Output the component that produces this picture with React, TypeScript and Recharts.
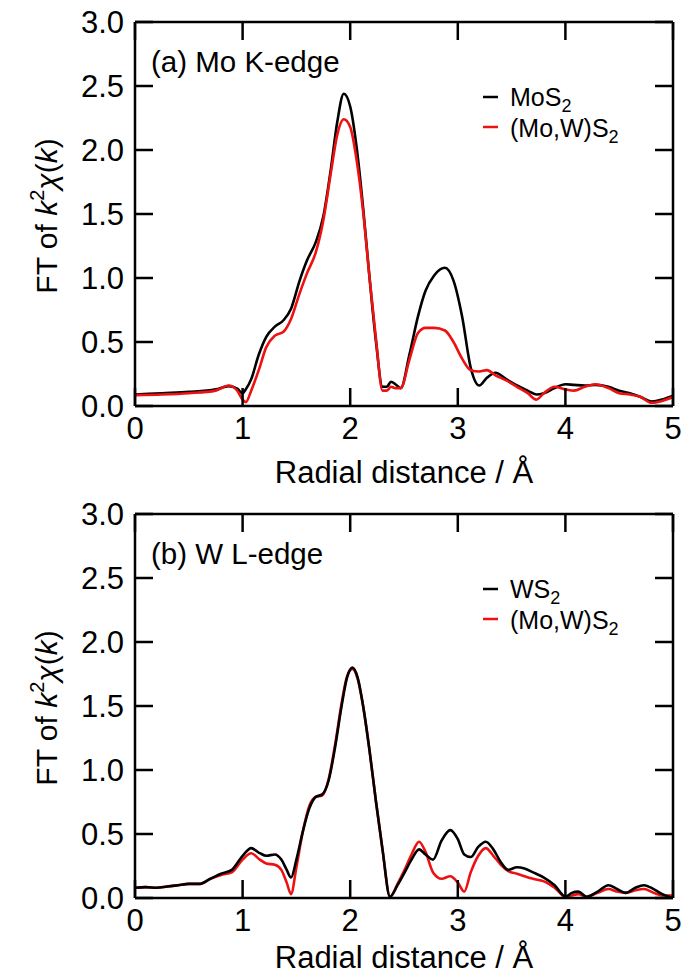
import { Line, LineChart, XAxis, YAxis } from "recharts";

const FONT = '"Liberation Sans", Arial, Helvetica, sans-serif';
const RED = "#ee1111";

const X_TICKS = [0, 1, 2, 3, 4, 5];
const Y_TICKS = [0, 0.5, 1, 1.5, 2, 2.5, 3];

// (a) Mo K-edge
const R_MO = [
  0, 0.25, 0.5, 0.75, 0.87, 0.95, 1.0, 1.03, 1.08, 1.15, 1.22, 1.3, 1.38, 1.45, 1.53, 1.6, 1.68,
  1.75, 1.82, 1.88, 1.94, 2.0, 2.06, 2.12, 2.18, 2.24, 2.3, 2.34, 2.38, 2.42, 2.47, 2.55, 2.63,
  2.7, 2.78, 2.88, 2.96, 3.04, 3.12, 3.2, 3.27, 3.35, 3.45, 3.55, 3.65, 3.73, 3.8, 3.9, 4.0, 4.08,
  4.18, 4.28, 4.4, 4.5, 4.6, 4.7, 4.8, 4.9, 5.0,
];
const MOS2_MO = [
  0.09, 0.1, 0.11, 0.13, 0.155, 0.135, 0.1, 0.13, 0.21, 0.4, 0.54, 0.62, 0.67, 0.76, 0.98, 1.14,
  1.28, 1.48, 1.85, 2.22, 2.44, 2.34, 2.02, 1.55, 1.0, 0.5, 0.15, 0.15, 0.19, 0.17, 0.14, 0.4,
  0.7, 0.9, 1.02, 1.08, 0.98, 0.7, 0.3, 0.16, 0.22, 0.26, 0.21, 0.16, 0.12, 0.09, 0.1, 0.14,
  0.17, 0.165, 0.16, 0.165, 0.15, 0.12, 0.1, 0.07, 0.035, 0.05, 0.08,
];
const MOWS2_MO = [
  0.085, 0.09, 0.1, 0.12, 0.16, 0.12, 0.05, 0.03, 0.12, 0.28, 0.46, 0.55, 0.58, 0.68, 0.88, 1.04,
  1.2, 1.45, 1.82, 2.12, 2.24, 2.18, 1.92, 1.52, 1.0, 0.52, 0.12, 0.12, 0.15, 0.14, 0.14, 0.36,
  0.57, 0.61, 0.61, 0.59, 0.5, 0.37, 0.28, 0.27, 0.28, 0.24, 0.2, 0.15, 0.1, 0.05, 0.1, 0.15,
  0.13, 0.12, 0.15, 0.17, 0.14, 0.1, 0.09, 0.07, 0.025, 0.04, 0.07,
];

// (b) W L-edge
const R_W = [
  0, 0.1, 0.2, 0.3, 0.4, 0.5, 0.6, 0.7, 0.8, 0.9, 1.0, 1.08, 1.16, 1.22, 1.3, 1.36, 1.41, 1.45,
  1.5, 1.56, 1.62, 1.68, 1.74, 1.8, 1.86, 1.92, 1.97, 2.02, 2.07, 2.12, 2.18, 2.24, 2.3, 2.37,
  2.44, 2.5, 2.57, 2.64, 2.7, 2.77, 2.85, 2.93, 3.0, 3.06, 3.12, 3.19, 3.26, 3.33, 3.4, 3.47,
  3.55, 3.62, 3.7, 3.8, 3.9, 4.0, 4.06, 4.12, 4.2, 4.3, 4.4, 4.48, 4.56, 4.65, 4.73, 4.82, 4.9, 5.0,
];
const WS2_W = [
  0.08, 0.085, 0.08, 0.09, 0.1, 0.11, 0.11, 0.15, 0.19, 0.22, 0.33, 0.39, 0.35, 0.33, 0.34, 0.3,
  0.22, 0.16, 0.3, 0.52, 0.7, 0.79, 0.81, 0.92, 1.18, 1.5, 1.72, 1.8, 1.72, 1.5, 1.15, 0.75, 0.38,
  0.01, 0.1, 0.19, 0.3, 0.38, 0.34, 0.3, 0.45, 0.53, 0.46, 0.34, 0.32, 0.4, 0.44, 0.38, 0.28,
  0.22, 0.24, 0.23, 0.2, 0.16, 0.1, 0.01, 0.04, 0.05, 0.01, 0.05, 0.1, 0.07, 0.04, 0.08, 0.1,
  0.07, 0.03, 0.0,
];
const MOWS2_W = [
  0.08, 0.085, 0.08, 0.09, 0.1, 0.11, 0.11, 0.15, 0.18, 0.2, 0.3, 0.35, 0.3, 0.27, 0.26, 0.22,
  0.12, 0.03, 0.24, 0.52, 0.72, 0.79, 0.8, 0.93, 1.2, 1.52, 1.73, 1.79, 1.71, 1.5, 1.15, 0.75,
  0.38, 0.01, 0.11, 0.21, 0.34, 0.44, 0.36, 0.2, 0.15, 0.17, 0.12, 0.05, 0.2, 0.33, 0.39, 0.33,
  0.26, 0.21, 0.19, 0.17, 0.15, 0.13, 0.08, 0.01, 0.02, 0.03, 0.01, 0.04, 0.07, 0.05, 0.04, 0.06,
  0.07, 0.04, 0.02, 0.02,
];

type Row = { r: number; ref: number; mix: number };
type Series = { name: string; sub: string; color: string };

const build = (r: number[], a: number[], b: number[]): Row[] =>
  r.map((x, i) => ({ r: x, ref: a[i], mix: b[i] }));

const AXIS = { stroke: "#000", strokeWidth: 2.5 };
const TICK_TEXT = { fontSize: 31, fill: "#000", fontFamily: FONT };
const noTick = () => <g />;

const makeXTitle = (offset: number) => ({ viewBox }: any) => (
  <text
    x={viewBox.x + viewBox.width / 2}
    y={viewBox.y + offset}
    textAnchor="middle"
    fontSize={31}
    fontFamily={FONT}
    fill="#000"
  >
    Radial distance / Å
  </text>
);

const yTitle = ({ viewBox }: any) => {
  const cx = viewBox.x + 57;
  const cy = viewBox.y + viewBox.height / 2 + 2;
  return (
    <text
      x={cx}
      y={cy}
      transform={`rotate(-90 ${cx} ${cy})`}
      textAnchor="middle"
      fontSize={30}
      fontFamily={FONT}
      fill="#000"
    >
      FT of <tspan fontStyle="italic">k</tspan>
      <tspan dy={-13} fontSize={20}>2</tspan>
      <tspan dy={13} fontStyle="italic">χ</tspan>(<tspan fontStyle="italic">k</tspan>)
    </text>
  );
};

function Panel({
  top,
  height,
  rows,
  title,
  series,
  redOnTop,
  titleOffset,
}: {
  top: number;
  height: number;
  rows: Row[];
  title: string;
  series: Series[];
  redOnTop: boolean;
  titleOffset: number;
}) {
  const lines = [
    <Line key="ref" xAxisId="b" yAxisId="l" type="monotone" dataKey="ref" stroke="#000"
      strokeWidth={2.6} dot={false} isAnimationActive={false} />,
    <Line key="mix" xAxisId="b" yAxisId="l" type="monotone" dataKey="mix" stroke={RED}
      strokeWidth={2.6} dot={false} isAnimationActive={false} />,
  ];
  return (
    <div style={{ position: "absolute", left: 0, top, width: 692, height }}>
      <LineChart width={692} height={height} data={rows}
        margin={{ top: 21, right: 18, left: 0, bottom: 0 }}>
        <XAxis xAxisId="b" dataKey="r" type="number" domain={[0, 5]} ticks={X_TICKS}
          interval={0} height={height - 22 - 384} tickSize={-18} tickMargin={29}
          tick={TICK_TEXT} axisLine={AXIS} tickLine={AXIS} label={makeXTitle(titleOffset)}
          allowDataOverflow />
        <XAxis xAxisId="t" orientation="top" dataKey="r" type="number" domain={[0, 5]}
          ticks={X_TICKS} interval={0} height={1} tickSize={-18} tick={noTick}
          axisLine={AXIS} tickLine={AXIS} allowDataOverflow />
        <YAxis yAxisId="l" type="number" domain={[0, 3]} ticks={Y_TICKS} interval={0}
          width={135} tickSize={-18} tickMargin={29} tick={TICK_TEXT}
          tickFormatter={(v: number) => v.toFixed(1)} axisLine={AXIS} tickLine={AXIS}
          label={yTitle} allowDataOverflow />
        <YAxis yAxisId="r" orientation="right" type="number" domain={[0, 3]} ticks={Y_TICKS}
          interval={0} width={1} tickSize={-18} tick={noTick} axisLine={AXIS}
          tickLine={AXIS} allowDataOverflow />
        {redOnTop ? lines : [lines[1], lines[0]]}
      </LineChart>
      <svg width={692} height={height}
        style={{ position: "absolute", left: 0, top: 0, pointerEvents: "none" }}>
        <text x={151} y={72} fontSize={29.5} fontFamily={FONT} fill="#000">{title}</text>
        {series.map((s, i) => (
          <g key={s.name}>
            <line x1={483} x2={498} y1={97 + i * 30} y2={97 + i * 30} stroke={s.color}
              strokeWidth={2.5} />
            <text x={510} y={105.5 + i * 31.5} fontSize={25} fontFamily={FONT} fill="#000">
              {s.name}
              <tspan dy={6} fontSize={18}>{s.sub}</tspan>
            </text>
          </g>
        ))}
      </svg>
    </div>
  );
}

const SERIES_MO: Series[] = [
  { name: "MoS", sub: "2", color: "#000" },
  { name: "(Mo,W)S", sub: "2", color: RED },
];
const SERIES_W: Series[] = [
  { name: "WS", sub: "2", color: "#000" },
  { name: "(Mo,W)S", sub: "2", color: RED },
];

export default function App() {
  return (
    <div style={{ position: "absolute", left: 0, top: 0, width: 692, height: 976, background: "#fff" }}>
      <Panel top={492} height={484} rows={build(R_W, WS2_W, MOWS2_W)}
        title="(b) W L-edge" series={SERIES_W} redOnTop={false} titleOffset={70} />
      <Panel top={0} height={496} rows={build(R_MO, MOS2_MO, MOWS2_MO)}
        title="(a) Mo K-edge" series={SERIES_MO} redOnTop titleOffset={77} />
    </div>
  );
}
